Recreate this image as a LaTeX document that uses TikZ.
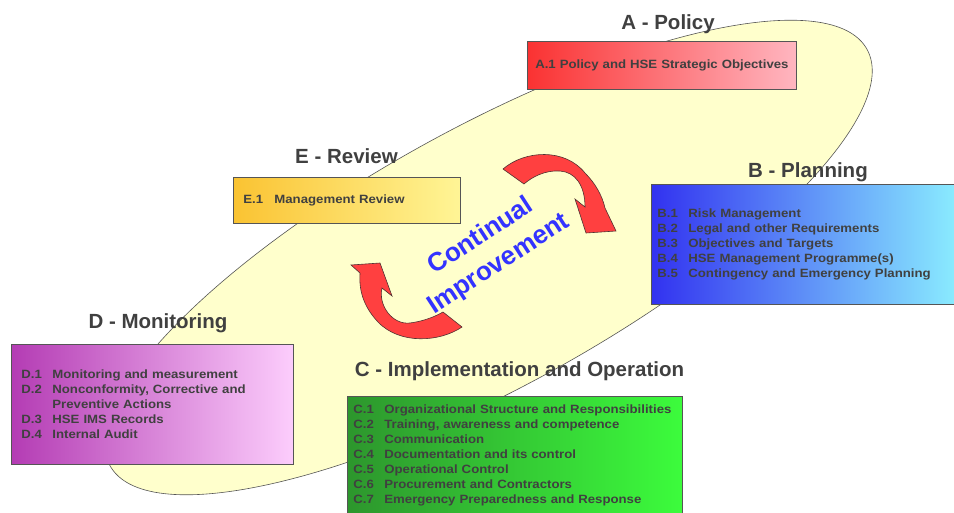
\documentclass[tikz,border=0pt]{standalone}
\usepackage{fontspec}
\setmainfont{Liberation Sans}
\newfontfamily\itemfont[FakeStretch=1.1]{Liberation Sans}
\definecolor{txtgray}{RGB}{64,64,64}
\definecolor{boxline}{RGB}{85,85,85}
\definecolor{ovalfill}{RGB}{255,255,204}
\definecolor{cipblue}{RGB}{51,51,255}
\definecolor{arrred}{RGB}{255,64,64}
\definecolor{arrline}{RGB}{80,50,50}
\newcommand\itm[2]{\makebox[31pt][l]{#1}#2}

\begin{document}
\begin{tikzpicture}[x=1pt,y=-1pt,
phase/.style={font=\fontsize{20.5}{24}\selectfont\bfseries,text=txtgray,anchor=base},
listbox/.style={draw=boxline,line width=.8pt,anchor=north west,align=left,inner ysep=0pt,inner xsep=6pt,
  font=\itemfont\fontsize{12}{15}\selectfont\bfseries,text=txtgray},
turn/.style={fill=arrred,draw=arrline,line width=.6pt}]
\useasboundingbox(0,0)rectangle(954,512);

% the oval behind everything
\draw[fill=ovalfill,draw=boxline,line width=.6pt,rotate around={28.8:(488.5,257.5)}](488.5,257.5)ellipse[x radius=432,y radius=130];

% A - Policy
\node[phase](tA)at(668,29){A - Policy};
\node[listbox,align=center,text width=257pt,minimum height=48pt,left color={rgb,255:red,250;green,50;blue,50},right color={rgb,255:red,255;green,182;blue,192}](boxA)at(527,41){A.1 Policy and HSE Strategic Objectives};

% B - Planning
\node[phase](tB)at(808,177){B - Planning};
\node[listbox,text width=300pt,minimum height=120pt,left color={rgb,255:red,50;green,50;blue,240},right color={rgb,255:red,140;green,240;blue,255}](boxB)at(651,184){\itm{B.1}{Risk Management}\\\itm{B.2}{Legal and other Requirements}\\\itm{B.3}{Objectives and Targets}\\\itm{B.4}{HSE Management Programme(s)}\\\itm{B.5}{Contingency and Emergency Planning}};

% C - Implementation and Operation
\node[phase](tC)at(519.5,376){C - Implementation and Operation};
\node[listbox,text width=323pt,minimum height=118pt,left color={rgb,255:red,45;green,150;blue,45},right color={rgb,255:red,60;green,252;blue,60}](boxC)at(347,396){\itm{C.1}{Organizational Structure and Responsibilities}\\\itm{C.2}{Training, awareness and competence}\\\itm{C.3}{Communication}\\\itm{C.4}{Documentation and its control}\\\itm{C.5}{Operational Control}\\\itm{C.6}{Procurement and Contractors}\\\itm{C.7}{Emergency Preparedness and Response}};

% D - Monitoring
\node[phase](tD)at(158,328){D - Monitoring};
\node[listbox,inner xsep=10pt,text width=262pt,minimum height=120pt,left color={rgb,255:red,180;green,60;blue,180},right color={rgb,255:red,252;green,205;blue,252}](boxD)at(11,344){\itm{D.1}{Monitoring and measurement}\\\itm{D.2}{Nonconformity, Corrective and}\\\hspace*{31pt}Preventive Actions\\\itm{D.3}{HSE IMS Records}\\\itm{D.4}{Internal Audit}};

% E - Review
\node[phase](tE)at(346.5,163){E - Review};
\node[listbox,inner xsep=10pt,text width=207pt,minimum height=46pt,left color={rgb,255:red,250;green,195;blue,50},right color={rgb,255:red,255;green,245;blue,150}](boxE)at(233,177){\itm{E.1}{Management Review}};

% the two turning arrows
\draw[turn](503,169).. controls (525,150) and (565,148) ..(585,173).. controls (595,183) and (602,195) ..(605,208)--(616,231)--(586,233)--(575,199)--(585,207)
  .. controls (585,185) and (575,172) ..(560,171).. controls (545,170) and (532,177) ..(524,184)--cycle;
\draw[turn](443,312)--(462,327).. controls (440,342) and (400,345) ..(378,322).. controls (362,305) and (359,288) ..(360,273)--(351,265)--(380,263)--(392,296)--(382,288)
  .. controls (378,305) and (392,325) ..(410,323).. controls (425,321) and (436,316) ..(443,312)--cycle;

\node[font=\fontsize{26}{33}\selectfont\bfseries,text=cipblue,align=center,rotate=33](cip)at(490,250.5){Continual\\Improvement};
\end{tikzpicture}
\end{document}
